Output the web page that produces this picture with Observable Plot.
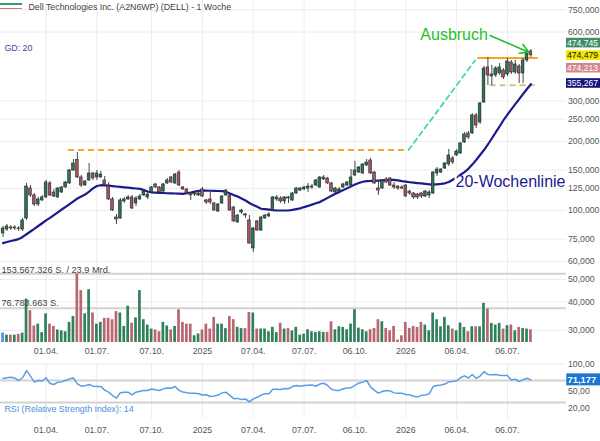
<!DOCTYPE html>
<html><head><meta charset="utf-8">
<script src="https://cdn.jsdelivr.net/npm/d3@7"></script>
<script src="https://cdn.jsdelivr.net/npm/@observablehq/plot@0.6"></script>
<style>
body{margin:0;background:#fff;}
#wrap{position:relative;width:600px;height:441px;overflow:hidden;background:#fff;font-family:"Liberation Sans",Arial,sans-serif;}
#wrap > div{position:absolute;left:0;}
.leg{position:absolute;left:3px;width:22px;height:1.6px;}
</style></head><body>
<div id="wrap">
  <div id="price" style="top:0"></div>
  <div id="vol" style="top:0"></div>
  <div id="rsi" style="top:343px"></div>
  <div class="leg" style="top:3px;background:#3b9a72"></div>
  <div class="leg" style="top:7.5px;background:#d9737c"></div>
</div>
<script>
// ---------- data (weekly candles, first week starting Monday) ----------
const firstWeek = "2024-01-15";
const open = [
 79.4, 82.6, 84.3, 83.5, 83.5, 82.6, 92.3, 124.7, 116.3, 106.2,
 110.6, 114.0, 131.2, 119.8, 114.0, 119.8, 126.0, 131.2, 149.4, 166.0,
 139.3, 128.5, 135.2, 145.0, 139.3, 139.3, 135.2, 127.2, 111.7, 93.2,
 92.3, 109.5, 111.7, 114.0, 107.3, 111.7, 116.3, 114.0, 119.8, 129.9,
 126.0, 121.0, 131.2, 139.3, 131.2, 146.4, 126.0, 123.5, 118.6, 117.4,
 116.3, 123.5, 110.6, 111.7, 107.3, 99.0, 107.3, 116.3, 116.3, 103.1,
 88.7, 98.0, 96.1, 90.5, 68.3, 89.6, 81.8, 92.3, 94.2, 100.0,
 111.7, 112.8, 109.5, 114.0, 110.6, 118.6, 122.2, 123.5, 124.7, 126.0,
 128.5, 126.0, 136.5, 137.9, 131.2, 119.8, 121.0, 126.0, 128.5, 128.5,
 142.1, 146.4, 145.0, 157.1, 165.2, 146.4, 124.7, 124.7, 136.5, 137.9,
 128.5, 127.2, 126.0, 128.5, 121.0, 118.6, 117.4, 118.6, 115.1, 116.3,
 118.6, 145.0, 146.4, 152.4, 158.7, 168.6, 173.7, 177.3, 197.9, 216.7,
 216.7, 259.6, 242.0, 295.7, 420.3, 384.0, 387.8, 395.7, 407.8, 391.8,
 441.9, 399.7, 424.5, 395.7, 450.9, 493.5
];
const high = [
 85.2, 86.9, 86.0, 86.0, 85.2, 92.3, 131.2, 128.5, 118.6, 114.0,
 116.3, 135.2, 133.8, 123.5, 126.0, 127.2, 133.8, 150.9, 166.9, 179.0,
 142.1, 135.2, 160.3, 146.4, 149.4, 147.9, 140.7, 132.5, 114.0, 96.1,
 112.8, 114.0, 116.3, 116.3, 115.1, 117.4, 123.5, 121.0, 127.2, 131.2,
 127.2, 131.2, 137.9, 140.7, 145.0, 149.4, 127.2, 124.7, 119.8, 119.8,
 119.8, 126.0, 111.7, 119.8, 108.4, 107.3, 116.3, 123.5, 117.4, 104.1,
 96.1, 101.0, 97.0, 95.1, 84.3, 90.5, 94.2, 96.1, 98.0, 115.1,
 116.3, 115.1, 115.1, 115.1, 119.8, 126.0, 126.0, 127.2, 131.2, 129.9,
 136.5, 140.7, 142.1, 139.3, 132.5, 126.0, 126.0, 131.2, 133.8, 150.9,
 163.6, 155.5, 160.3, 166.9, 168.6, 147.9, 135.2, 136.5, 139.3, 139.3,
 132.5, 128.5, 128.5, 129.9, 122.2, 119.8, 118.6, 119.8, 122.2, 122.2,
 147.9, 154.0, 152.4, 161.9, 184.5, 172.0, 184.5, 197.9, 218.9, 221.1,
 264.8, 264.8, 295.7, 424.5, 464.7, 428.8, 424.5, 437.5, 416.1, 460.0,
 450.9, 450.9, 433.2, 460.0, 503.5, 503.5
];
const low = [
 76.3, 81.0, 81.8, 81.8, 81.0, 81.0, 90.5, 114.0, 104.1, 104.1,
 109.5, 112.8, 115.1, 114.0, 112.8, 118.6, 124.7, 129.9, 147.9, 137.9,
 126.0, 127.2, 133.8, 135.2, 135.2, 137.9, 128.5, 110.6, 99.0, 86.9,
 91.4, 107.3, 110.6, 101.0, 104.1, 110.6, 115.1, 111.7, 118.6, 124.7,
 118.6, 119.8, 129.9, 131.2, 129.9, 127.2, 122.2, 117.4, 110.6, 115.1,
 115.1, 114.0, 106.2, 106.2, 99.0, 98.0, 106.2, 115.1, 99.0, 88.7,
 87.8, 96.1, 92.3, 71.1, 65.6, 81.0, 81.0, 91.4, 93.2, 99.0,
 109.5, 107.3, 106.2, 107.3, 109.5, 117.4, 121.0, 122.2, 119.8, 123.5,
 127.2, 124.7, 135.2, 129.9, 119.8, 118.6, 119.8, 124.7, 127.2, 127.2,
 140.7, 145.0, 143.5, 155.5, 143.5, 129.9, 116.3, 123.5, 131.2, 127.2,
 123.5, 122.2, 123.5, 114.0, 116.3, 111.7, 111.7, 112.8, 114.0, 112.8,
 117.4, 140.7, 145.0, 150.9, 155.5, 158.7, 172.0, 175.5, 195.9, 204.0,
 214.5, 227.8, 237.2, 292.8, 350.8, 350.8, 380.1, 387.8, 372.6, 384.0,
 391.8, 391.8, 357.9, 357.9, 441.9, 464.7
];
const close = [
 83.5, 85.2, 83.5, 84.3, 83.0, 90.5, 127.2, 116.3, 106.2, 111.7,
 114.0, 132.5, 116.3, 115.1, 124.7, 126.0, 132.5, 149.4, 160.3, 139.3,
 128.5, 133.8, 145.0, 137.9, 145.0, 143.5, 129.9, 111.7, 100.0, 91.4,
 110.6, 111.7, 114.0, 102.0, 112.8, 115.1, 121.0, 117.4, 126.0, 126.0,
 119.8, 129.9, 135.2, 132.5, 143.5, 128.5, 123.5, 118.6, 116.3, 118.6,
 118.6, 115.1, 108.4, 108.4, 100.0, 106.2, 115.1, 122.2, 100.0, 89.6,
 95.1, 100.0, 95.1, 71.8, 83.5, 81.8, 93.2, 95.1, 96.1, 114.0,
 114.0, 109.5, 114.0, 112.8, 118.6, 124.7, 124.7, 126.0, 127.2, 127.2,
 135.2, 139.3, 139.3, 131.2, 121.0, 124.7, 123.5, 129.9, 132.5, 139.3,
 149.4, 154.0, 158.7, 161.9, 145.0, 131.2, 122.2, 135.2, 132.5, 128.5,
 126.0, 124.7, 124.7, 115.1, 118.6, 114.0, 114.0, 115.1, 121.0, 119.8,
 146.4, 150.9, 150.9, 160.3, 173.7, 161.9, 180.9, 195.9, 214.5, 208.1,
 259.6, 234.8, 292.8, 416.1, 387.8, 391.8, 416.1, 420.3, 380.1, 446.4,
 399.7, 433.2, 395.7, 450.9, 488.6, 474.745
];
// volume in millions of shares
const volume = [
 21.0, 16.5, 16.5, 16.5, 18.0, 21.0, 97.0, 71.0, 37.0, 41.0,
 22.0, 64.0, 41.0, 36.0, 28.0, 26.0, 24.0, 45.0, 58.0, 153.567326,
 116.0, 64.0, 118.0, 66.0, 41.0, 45.0, 54.0, 54.0, 51.0, 69.0,
 66.0, 36.0, 81.0, 43.0, 55.0, 116.0, 51.0, 39.0, 30.0, 28.0,
 24.0, 45.0, 37.0, 28.0, 36.0, 73.0, 45.0, 41.0, 41.0, 15.0,
 19.0, 28.0, 41.0, 30.0, 56.0, 41.0, 41.0, 31.0, 58.0, 51.0,
 34.0, 31.0, 31.0, 67.0, 66.0, 30.0, 30.0, 30.0, 24.0, 34.0,
 22.0, 43.0, 30.0, 31.0, 26.0, 34.0, 16.5, 18.7, 28.5, 24.0,
 22.5, 24.0, 22.5, 22.5, 46.4, 28.5, 35.2, 33.7, 28.5, 41.2,
 73.4, 32.2, 28.5, 24.0, 28.5, 31.5, 50.9, 46.4, 31.5, 26.2,
 36.0, 5.2, 15.0, 44.9, 31.5, 36.0, 33.7, 44.9, 39.0, 26.2,
 65.9, 50.9, 35.2, 56.2, 37.5, 30.0, 26.2, 43.4, 33.7, 24.0,
 35.2, 35.2, 35.2, 87.6, 74.9, 42.7, 39.0, 42.7, 30.0, 37.5,
 39.0, 26.2, 33.7, 31.5, 30.0, 28.5
];
// 20-week moving average ("GD: 20")
const ma20 = [
 72.1, 72.9, 73.6, 74.3, 75.0, 76.7, 78.8, 81.0, 83.2, 85.6,
 88.0, 90.5, 92.9, 95.5, 98.2, 101.0, 103.8, 106.6, 109.7, 112.8,
 115.1, 117.4, 120.8, 124.8, 127.9, 128.9, 128.8, 128.3, 127.8, 127.2,
 126.7, 126.2, 125.7, 125.2, 124.7, 124.3, 122.7, 121.0, 119.9, 119.7,
 119.4, 119.2, 118.9, 118.7, 118.6, 118.4, 118.2, 119.1, 119.8, 120.8,
 121.7, 122.2, 122.0, 121.9, 121.7, 121.6, 121.5, 120.8, 118.7, 116.7,
 115.1, 112.8, 110.6, 107.8, 105.7, 103.8, 101.8, 101.3, 100.8, 100.3,
 100.0, 100.0, 100.0, 100.0, 100.6, 101.4, 102.2, 103.5, 104.7, 106.1,
 107.5, 108.8, 111.1, 113.5, 115.9, 118.4, 120.5, 122.7, 125.1, 127.4,
 129.7, 131.7, 133.4, 134.4, 134.5, 134.8, 135.1, 135.3, 135.6, 135.9,
 136.0, 135.3, 134.2, 133.5, 132.8, 132.2, 131.7, 131.2, 130.6, 130.1,
 129.9, 130.0, 130.6, 131.4, 133.1, 136.2, 139.3, 143.2, 147.0, 151.9,
 158.5, 166.0, 174.5, 183.5, 194.0, 206.0, 219.0, 232.5, 248.0, 262.0,
 276.0, 291.0, 306.0, 322.0, 338.5, 355.267
];
// RSI (14)
const rsi = [
 73.5, 75, 76, 74.5, 70, 75, 88, 78, 67, 70,
 69, 75, 64.5, 62.7, 67, 67.5, 70, 73, 74.5, 64,
 59.7, 60.5, 62.7, 59.7, 59.3, 59.3, 52.5, 48.8, 42.7, 38,
 47.6, 48.8, 48.8, 44, 48.8, 50.6, 51.8, 51.8, 54.6, 53,
 51.8, 54.8, 56.5, 56, 59, 52, 49, 47.6, 47, 47,
 46, 43.5, 44, 41, 42, 43.5, 47.5, 48.8, 43, 37,
 37.5, 35.5, 36.5, 31, 36.5, 39.5, 43.5, 45.8, 45.8, 54,
 54, 53.5, 55.5, 55, 59, 61, 59.5, 61, 61.5, 62,
 59.5, 63.5, 65, 61, 54, 52, 52, 55, 56.5, 57,
 61, 65.5, 67, 70, 58, 52, 47, 50, 51.8, 51,
 47.5, 47, 47, 44.5, 44, 41.5, 39.8, 43, 43.5, 46,
 59, 60.8, 62, 63.5, 67.5, 68.2, 69.5, 75, 78.5, 74.5,
 81, 74, 78, 86, 81, 80.4, 81, 79.5, 79, 79,
 71, 72.5, 68, 71.5, 74, 71.177
];
const quarterTicks = ["2024-04-01","2024-07-01","2024-10-07","2025-01-06","2025-04-07","2025-07-07","2025-10-06","2026-01-05","2026-04-06","2026-07-06"];
const priceTicks = [30, 40, 50, 60, 75, 100, 125, 150, 200, 250, 300, 600, 750];
const rsiTicks = [20, 50, 100];
const rsiLevels = [30, 70];
const priceBoxValues = [474.745, 474.479, 474.213, 355.267];
const rsiLast = 71.177;
const oldResistance = [{from: "2024-05-11", to: "2026-01-10", level: 183.5}];
const breakoutPath = [{date: "2026-01-10", price: 183.5}, {date: "2026-05-09", price: 451}];
const newResistance = [{from: "2026-05-14", to: "2026-08-30", level: 462}];
const support = [{from: "2026-06-05", to: "2026-08-25", level: 352}];
const notes = [{label: "Ausbruch", date: "2026-01-31", price: 585}, {label: "20-Wochenlinie", date: "2026-04-04", price: 132.9}];
const arrowNote = [{date1: "2026-06-05", price1: 579.5, date2: "2026-08-13", price2: 490.1}];
const titleText = "Dell Technologies Inc. (A2N6WP) (DELL) - 1 Woche";
const gdText = "GD: 20";
const turnoverText = "23,9 Mrd.";
const rsiTitle = "RSI (Relative Strength Index): 14";

// ---------- helpers ----------
const FONT = "'Liberation Sans', Arial, sans-serif";
const de = d3.formatLocale({decimal: ",", thousands: ".", grouping: [3], currency: ["", " €"]});
const f3 = de.format(",.3f"), f2 = de.format(",.2f"), fInt = de.format(",d");
const D = s => new Date(s);
const xDomain = [D("2024-01-10T10:00Z"), D("2026-10-19T17:00Z")];
const fmtDate = d => d.getUTCMonth() === 0 ? String(d.getUTCFullYear()) : d3.utcFormat("%d.%m.")(d);
const qDates = quarterTicks.map(D);
const UP = "#2c7353", DOWN = "#a05760", VUP = "#31805d", VDOWN = "#b8666f", VFIRST = "#5b8fd9";

const rows = close.map((c, i) => {
  const date = d3.utcWeek.offset(D(firstWeek), i);
  return {date, x1: d3.utcHour.offset(date, -58), x2: d3.utcHour.offset(date, 58),
    open: open[i], high: high[i], low: low[i], close: c, volume: volume[i], ma: ma20[i], rsi: rsi[i],
    up: c >= open[i], first: i === 0};
});
const vmax = d3.max(volume);

// put a filled box behind the text element(s) whose content matches
function boxify(svg, content, fill, padX, padY, extendRight) {
  svg.querySelectorAll("text").forEach(t => {
    if (t.textContent !== content) return;
    const b = t.getBBox();
    const r = document.createElementNS("http://www.w3.org/2000/svg", "rect");
    r.setAttribute("x", b.x - padX); r.setAttribute("y", b.y - padY);
    r.setAttribute("width", b.width + 2 * padX + (extendRight || 0)); r.setAttribute("height", b.height + 2 * padY);
    r.setAttribute("fill", fill);
    const tr = t.getAttribute("transform"); if (tr) r.setAttribute("transform", tr);
    t.parentNode.insertBefore(r, t);
  });
}

// ---------- price panel ----------
const boxStyles = [
  {bg: "#3f8c6b", fg: "#fff", dy: -12.5},
  {bg: "#f3e600", fg: "#111", dy: 0},
  {bg: "#d4868e", fg: "#fff", dy: 12.5},
  {bg: "#15157f", fg: "#fff", dy: -1}
];
const priceSvg = Plot.plot({
  width: 600, height: 343, marginTop: 0, marginBottom: 0, marginLeft: 0, marginRight: 34,
  style: {fontFamily: FONT, fontSize: "9px", background: "transparent", overflow: "visible"},
  x: {type: "utc", domain: xDomain, axis: null},
  y: {type: "log", domain: [26.31, 823.3], axis: null},
  marks: [
    Plot.gridY(priceTicks, {stroke: "#ececec", strokeOpacity: 1}),
    Plot.gridX(qDates, {stroke: "#ececec", strokeOpacity: 1}),
    Plot.ruleY(oldResistance, {x1: d => D(d.from), x2: d => D(d.to), y: "level", stroke: "#f6a623", strokeWidth: 2, strokeDasharray: "6,4"}),
    Plot.line(breakoutPath, {x: d => D(d.date), y: "price", stroke: "#47d8a2", strokeWidth: 1.8, strokeDasharray: "5,4"}),
    Plot.ruleY(newResistance, {x1: d => D(d.from), x2: d => D(d.to), y: "level", stroke: "#f6a623", strokeWidth: 2}),
    Plot.ruleY(support, {x1: d => D(d.from), x2: d => D(d.to), y: "level", stroke: "#cfc38f", strokeWidth: 2, strokeDasharray: "6,4"}),
    Plot.line(rows, {x: "date", y: "ma", stroke: "#1b1b8f", strokeWidth: 2.2}),
    Plot.ruleX(rows, {x: "date", y1: "low", y2: "high", stroke: "#333", strokeWidth: 0.9}),
    Plot.rect(rows, {x1: "x1", x2: "x2", y1: "open", y2: "close", fill: d => d.up ? UP : DOWN, stroke: "#262626", strokeWidth: 0.6}),
    Plot.text(notes.slice(0, 1), {x: d => D(d.date), y: "price", text: "label", fill: "#1fbf2a", fontSize: 16, textAnchor: "start", lineAnchor: "middle"}),
    Plot.text(notes.slice(1), {x: d => D(d.date), y: "price", text: "label", fill: "#1b1b8f", fontSize: 16, textAnchor: "start", lineAnchor: "middle"}),
    Plot.arrow(arrowNote, {x1: d => D(d.date1), y1: "price1", x2: d => D(d.date2), y2: "price2", stroke: "#1fbf2a", strokeWidth: 1.6, headLength: 9, bend: 0}),
    Plot.text(priceTicks, {y: d => d, text: d => f3(d), frameAnchor: "right", dx: 1.5, textAnchor: "start", lineAnchor: "middle", fill: "#555", fontSize: 8.7}),
    ...priceBoxValues.map((v, i) => Plot.text([v], {y: d => d, text: d => f3(d), frameAnchor: "right", dx: 0.5, dy: boxStyles[i].dy, textAnchor: "start", lineAnchor: "middle", fill: boxStyles[i].fg, fontSize: 8.6})),
    Plot.text([titleText], {frameAnchor: "top-left", dx: 28, dy: 7, text: d => d, textAnchor: "start", lineAnchor: "middle", fill: "#444", fontSize: 8.8}),
    Plot.text([gdText], {frameAnchor: "top-left", dx: 4, dy: 48, text: d => d, textAnchor: "start", lineAnchor: "middle", fill: "#3a45a8", fontSize: 8.8})
  ]
});
document.getElementById("price").append(priceSvg);
priceBoxValues.forEach((v, i) => boxify(priceSvg, f3(v), boxStyles[i].bg, 1, -0.2, 3));
boxify(priceSvg, notes[1].label, "#fff", 1, -2, 0);

// ---------- volume panel (overlay) ----------
const volSvg = Plot.plot({
  width: 600, height: 343, marginTop: 273.3, marginBottom: 1, marginLeft: 0, marginRight: 34,
  style: {fontFamily: FONT, fontSize: "9px", background: "transparent", overflow: "visible"},
  x: {type: "utc", domain: xDomain, axis: null},
  y: {domain: [0, vmax], axis: null},
  marks: [
    Plot.ruleY([vmax, vmax / 2], {stroke: "#d2d2d2", strokeWidth: 2}),
    Plot.rectY(rows, {x1: "x1", x2: "x2", y: "volume", fill: d => d.first ? VFIRST : (d.up ? VUP : VDOWN)}),
    Plot.text([vmax], {y: d => d, frameAnchor: "left", dx: 1, dy: -4, text: d => fInt(Math.round(d * 1e6)) + " S. / " + turnoverText, textAnchor: "start", lineAnchor: "middle", fill: "#444", fontSize: 9.2}),
    Plot.text([vmax / 2], {y: d => d, frameAnchor: "left", dx: 1, dy: -5.3, text: d => fInt(Math.round(d * 1e6)) + " S.", textAnchor: "start", lineAnchor: "middle", fill: "#444", fontSize: 9.2})
  ]
});
document.getElementById("vol").append(volSvg);

// ---------- RSI panel with date axes ----------
const rsiSvg = Plot.plot({
  width: 600, height: 98, marginTop: 20.5, marginBottom: 22.5, marginLeft: 0, marginRight: 34,
  style: {fontFamily: FONT, fontSize: "9px", background: "transparent", overflow: "visible"},
  x: {type: "utc", domain: xDomain, axis: null},
  y: {domain: [0, 100], axis: null},
  marks: [
    Plot.gridX(qDates, {stroke: "#ececec", strokeOpacity: 1}),
    Plot.gridY([100], {stroke: "#ececec", strokeOpacity: 1}),
    Plot.ruleY(rsiLevels, {stroke: "#d2d2d2", strokeWidth: 2}),
    Plot.line(rows, {x: "date", y: "rsi", stroke: "#5b9ce6", strokeWidth: 1.5}),
    Plot.text(rsiTicks, {y: d => d, text: d => f2(d), frameAnchor: "right", dx: 1.5, textAnchor: "start", lineAnchor: "middle", fill: "#555", fontSize: 8.7}),
    Plot.text(qDates, {x: d => d, frameAnchor: "top", dy: -12.5, text: fmtDate, lineAnchor: "middle", fill: "#555", fontSize: 8.8}),
    Plot.text(qDates, {x: d => d, frameAnchor: "bottom", dy: 11.5, text: fmtDate, lineAnchor: "middle", fill: "#555", fontSize: 8.8}),
    Plot.text([rsiTitle], {frameAnchor: "bottom-left", dx: 4, dy: -9.5, text: d => d, textAnchor: "start", lineAnchor: "middle", fill: "#4a8fdc", fontSize: 8.8}),
    Plot.text([rsiLast], {y: d => d, frameAnchor: "right", dx: 1, text: d => f3(d), textAnchor: "start", lineAnchor: "middle", fill: "#fff", fontSize: 9.4, fontWeight: "bold"})
  ]
});
document.getElementById("rsi").append(rsiSvg);
boxify(rsiSvg, f3(rsiLast), "#1c74d4", 1.2, 0.5, 3);
</script>
</body></html>
